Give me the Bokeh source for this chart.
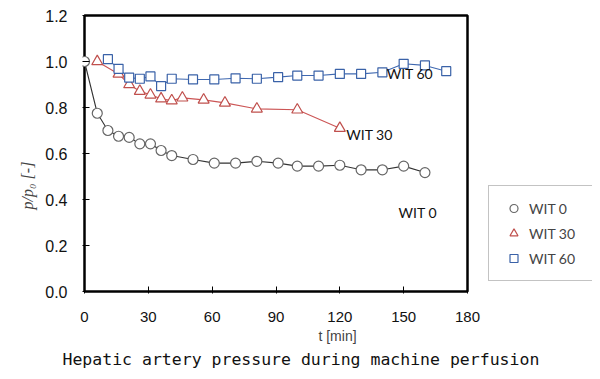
from bokeh.plotting import figure
from bokeh.models import (Range1d, FixedTicker, PrintfTickFormatter, Legend, LegendItem, Label,
                          Title, BoxAnnotation)
from bokeh.embed import file_html
from bokeh.resources import INLINE

# ---- data ----
t_wit0 = [0, 6, 11, 16, 21, 26, 31, 36, 41, 51, 61, 71, 81, 91, 100, 110, 120, 130, 140, 150, 160]
p_wit0 = [1.0, 0.775, 0.70, 0.675, 0.67, 0.642, 0.642, 0.613, 0.591, 0.574, 0.558, 0.558, 0.566,
          0.558, 0.545, 0.545, 0.549, 0.529, 0.529, 0.545, 0.517]

t_wit30 = [6, 16, 21, 26, 31, 36, 41, 46, 56, 66, 81, 100, 120]
p_wit30 = [1.0, 0.946, 0.90, 0.871, 0.855, 0.838, 0.83, 0.842, 0.833, 0.82, 0.794, 0.79, 0.71]

t_wit60 = [11, 16, 21, 26, 31, 36, 41, 51, 61, 71, 81, 91, 100, 110, 120, 130, 140, 150, 160, 170]
p_wit60 = [1.01, 0.968, 0.93, 0.925, 0.935, 0.893, 0.925, 0.922, 0.922, 0.927, 0.925, 0.932,
           0.939, 0.939, 0.946, 0.946, 0.953, 0.99, 0.983, 0.958]

series_names = ["WIT 0", "WIT 30", "WIT 60"]
x_ticks = [0, 30, 60, 90, 120, 150, 180]
y_ticks = [0.0, 0.2, 0.4, 0.6, 0.8, 1.0, 1.2]

# in-plot annotation anchors (data coords)
note_t = [147.6, 123.0, 142.0]
note_p = [0.345, 0.683, 0.949]

NB = "\u00a0"

# ---- layout (pixels) ----
W, H = 592, 371
box_l, box_r, box_t, box_b = 84, 467, 15, 291   # visible axes box
pad = 2
fr_l, fr_t, fr_b, fr_r = box_l - pad, box_t - pad, box_b + pad, W

x0, x1 = x_ticks[0], x_ticks[-1]
y0, y1 = y_ticks[0], y_ticks[-1]
xs = (box_r - box_l) / (x1 - x0)
ys = (box_b - box_t) / (y1 - y0)
x_range = Range1d(x0 - pad / xs, x1 + (fr_r - box_r) / xs)
y_range = Range1d(y0 - pad / ys, y1 + pad / ys)

p = figure(width=W, height=H, output_backend="svg", toolbar_location=None,
           x_range=x_range, y_range=y_range,
           min_border_left=fr_l, min_border_right=0, min_border_top=fr_t, min_border_bottom=H - fr_b)
p.background_fill_color = "white"
p.border_fill_color = "white"
p.outline_line_color = None
p.xgrid.visible = False
p.ygrid.visible = False

for ax in (p.xaxis[0], p.yaxis[0]):
    ax.axis_line_color = None
    ax.major_tick_in = 7
    ax.major_tick_out = 0
    ax.minor_tick_line_color = None
    ax.major_tick_line_color = "black"
    ax.major_label_text_font = "Liberation Sans"
    ax.major_label_text_color = "#111111"

p.xaxis.major_label_text_font_size = "15px"
p.yaxis.major_label_text_font_size = "16px"
p.xaxis.ticker = FixedTicker(ticks=x_ticks)
p.yaxis.ticker = FixedTicker(ticks=y_ticks)
p.yaxis.formatter = PrintfTickFormatter(format="%.1f")
p.xaxis.major_label_standoff = 18
p.yaxis.major_label_standoff = 15

p.xaxis.axis_label = "t [min]"
p.xaxis.axis_label_text_font = "Liberation Sans"
p.xaxis.axis_label_text_font_style = "normal"
p.xaxis.axis_label_text_font_size = "14px"
p.xaxis.axis_label_standoff = 3

p.yaxis.axis_label = "p/p\u2080 [-]" + NB * 16
p.yaxis.axis_label_text_font = "Liberation Serif"
p.yaxis.axis_label_text_font_style = "italic"
p.yaxis.axis_label_text_font_size = "16px"
p.yaxis.axis_label_standoff = 6

# axes box
p.add_layout(BoxAnnotation(left=x0, right=x1, bottom=y0, top=y1, fill_alpha=0,
                           line_color="black", line_alpha=1.0, line_width=2.5, level="underlay"))

# lines
p.line(t_wit0, p_wit0, line_color="#333333", line_width=1.1)
p.line(t_wit30, p_wit30, line_color="#cc5555", line_width=1.1)
p.line(t_wit60, p_wit60, line_color="#3f68b0", line_width=1.1)

# markers
r0 = p.scatter(t_wit0, p_wit0, marker="circle", size=10, fill_color="white",
               line_color="#666666", line_width=1.2)
r30 = p.scatter(t_wit30, p_wit30, marker="triangle", size=11, fill_color="white",
                line_color="#c0504d", line_width=1.2)
r60 = p.scatter(t_wit60, p_wit60, marker="square", size=9, fill_color="white",
                line_color="#3a62a8", line_width=1.2)

# in-plot labels
for name, tt, pp in zip(series_names, note_t, note_p):
    p.add_layout(Label(x=tt, y=pp, text=name, text_font="Lato", text_font_size="14px",
                       text_baseline="middle", text_align="left", text_color="#111111"))

# caption below
cap = Title(text="Hepatic  artery  pressure  during  machine  perfusion", align="left",
            text_font="DejaVu Sans Mono", text_font_size="16.5px", text_font_style="normal",
            text_color="#111111", standoff=3, offset=-20)
p.add_layout(cap, "below")

legend = Legend(items=[LegendItem(label=n, renderers=[r]) for n, r in zip(series_names, [r0, r30, r60])],
                location=(488 - fr_l, fr_b - 281), padding=12, spacing=5, margin=0,
                glyph_width=25, glyph_height=20, label_height=20, label_width=73,
                label_standoff=3, label_text_font="Lato", label_text_font_size="14px",
                border_line_color="#888888", border_line_width=1, background_fill_color="white")
p.add_layout(legend, "center")

open("out.html", "w").write(file_html(p, INLINE))
